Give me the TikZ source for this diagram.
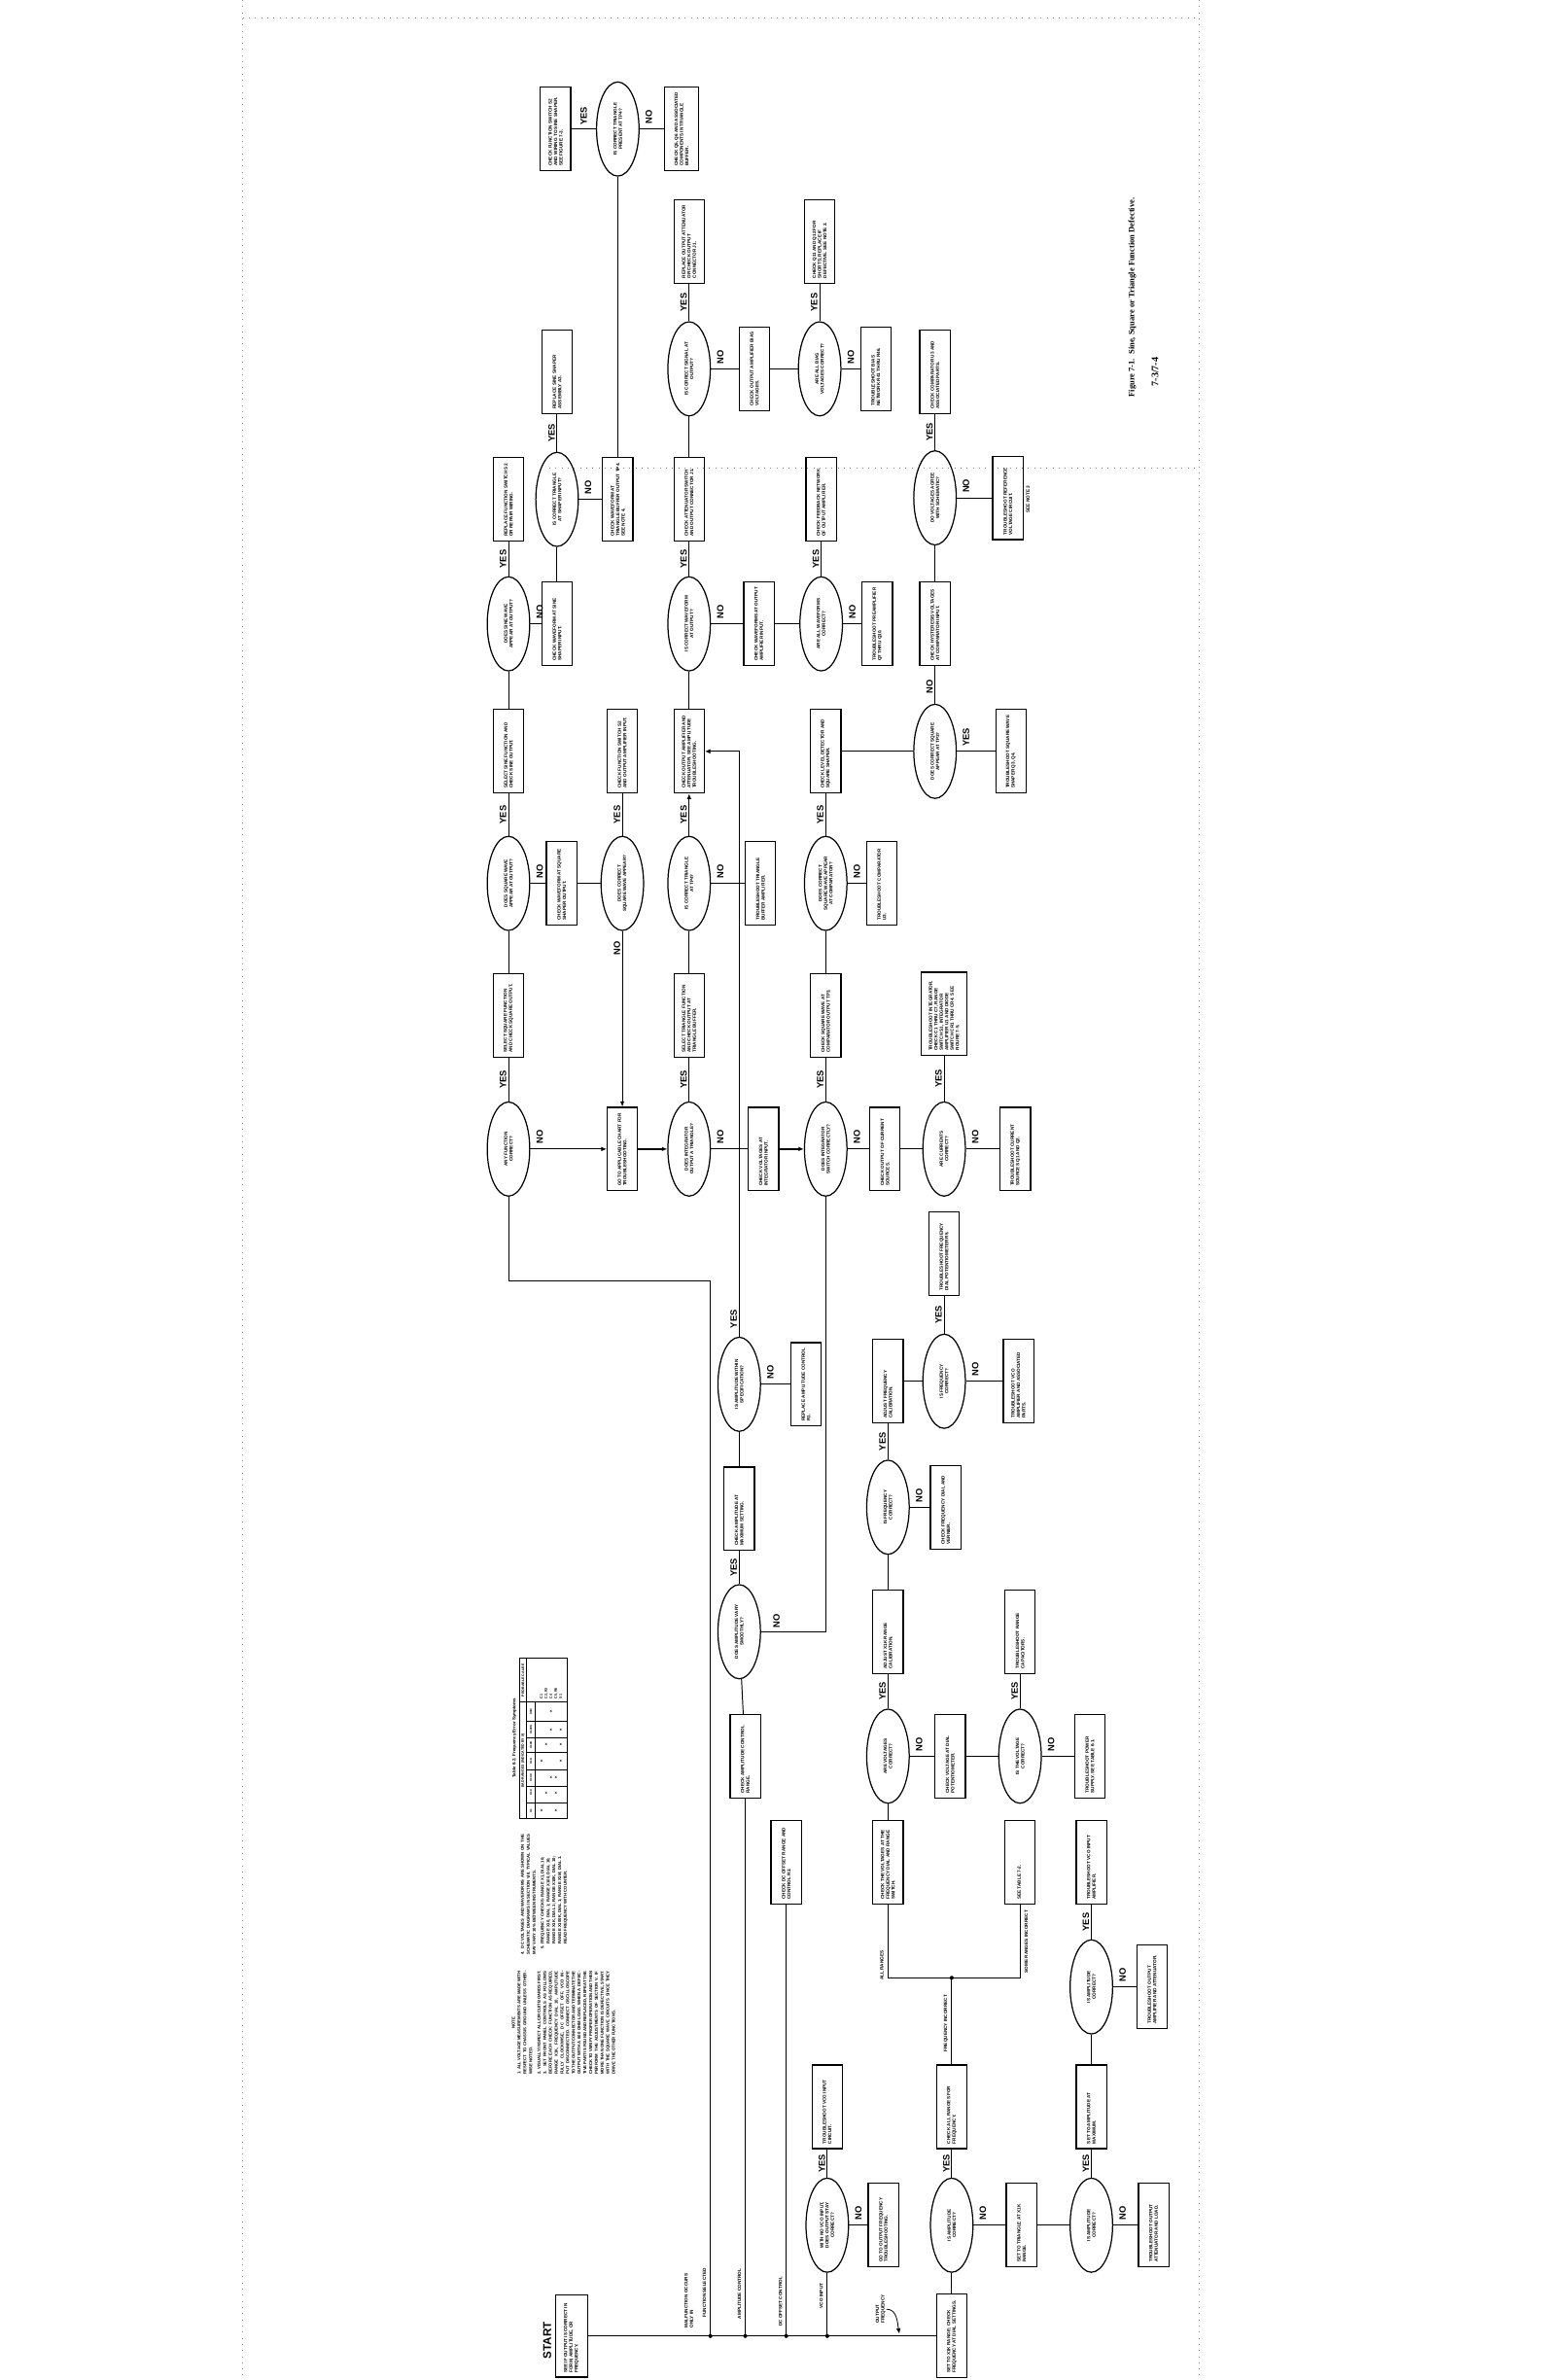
\documentclass[tikz,border=0pt]{standalone}
\usepackage{fontspec}
\setmainfont{Liberation Sans}
\newfontfamily\capfont{Liberation Serif}
\usetikzlibrary{shapes.geometric,arrows.meta}

\newcommand{\boxfont}{\fontsize{3.4}{4.0}\selectfont\bfseries}
\newcommand{\labfont}{\fontsize{6.8}{7}\selectfont\bfseries}
\newcommand{\legfont}{\fontsize{3.4}{4}\selectfont\bfseries}
\newcommand{\boxtxt}[1]{\rotatebox{90}{\parbox{1.95cm}{\boxfont\raggedright #1}}}
\newcommand{\dectxt}[1]{\rotatebox{90}{\parbox{1.5cm}{\boxfont\centering #1}}}
\newcommand{\legtxt}[1]{\rotatebox{90}{\legfont\begin{tabular}{@{}l@{}}#1\end{tabular}}}
\newcommand{\lblyes}{\rotatebox{90}{YES}}
\newcommand{\lblno}{\rotatebox{90}{NO}}

\tikzset{
  >={Latex[length=4pt,width=3.4pt]},
  box/.style={draw, line width=0.9pt, minimum width=0.8cm, minimum height=2.2cm, inner sep=0pt},
  dec/.style={draw, ellipse, line width=0.9pt, minimum width=1.12cm, minimum height=2.48cm, inner sep=0pt},
  lab/.style={inner sep=0.5pt, font=\labfont},
  nolab/.style={lab, pos=0, anchor=south west, xshift=3.7pt, yshift=3pt},
  yeslab/.style={lab, left=0.8pt},
  leg/.style={inner sep=0pt},
  scan/.style={black!45, line width=0.5pt, dash pattern=on 0.6pt off 4pt}
}

\begin{document}
\begin{tikzpicture}[x=0.04cm, y=-0.04cm, line width=0.7pt]
\fill[white] (0,0) rectangle (1015,1568);
\useasboundingbox (0,0) rectangle (1015,1568);

% page edges of the scan
\draw[scan] (160,0) -- (160,1568);
\draw[scan] (790,0) -- (790,1568);
\draw[scan] (160,12) -- (790,12);
\draw[scan] (362,308) -- (790,308);

% row a
\node[box] (bA2) at (366,85) {\boxtxt{CHECK FUNCTION SWITCH S2 AND WIRING TO SINE SHAPER. SEE FIGURE 7-3.}};
\node[dec] (eA3) at (407,85) {\dectxt{IS CORRECT TRIANGLE PRESENT AT TP4?}};
\node[box, minimum width=0.88cm] (bA4) at (449,85) {\boxtxt{CHECK Q5, Q6 AND ASSOCIATED COMPONENTS IN TRIANGLE BUFFER.}};
% row b
\node[box] (bB4) at (454,159) {\boxtxt{REPLACE OUTPUT ATTENUATOR OR CHECK OUTPUT CONNECTOR J1.}};
\node[box] (bB7) at (540,159) {\boxtxt{CHECK Q11 AND Q12 FOR SHORTS; REPLACE IF DEFECTIVE. SEE NOTE 2.}};
% row c
\node[box] (bC2) at (367,245) {\boxtxt{REPLACE SINE SHAPER ASSEMBLY A3.}};
\node[dec] (eC4) at (454,243) {\dectxt{IS CORRECT SIGNAL AT OUTPUT?}};
\node[box] (bC6) at (497,243) {\boxtxt{CHECK OUTPUT AMPLIFIER BIAS VOLTAGES.}};
\node[dec] (eC7) at (540,243) {\dectxt{ARE ALL BIAS VOLTAGES CORRECT?}};
\node[box] (bC8) at (577,243) {\boxtxt{TROUBLESHOOT BIAS NETWORK R41 THRU R46.}};
\node[box] (bC9) at (616,245) {\boxtxt{CHECK COMPARATOR U3 AND ASSOCIATED PARTS.}};
% row d
\node[box] (bD1) at (335,329) {\boxtxt{REPLACE FUNCTION SWITCH S2 OR REPAIR WIRING.}};
\node[dec] (eD2) at (367,329) {\dectxt{IS CORRECT TRIANGLE AT SHAPER INPUT?}};
\node[box] (bD3) at (407,329) {\boxtxt{CHECK WAVEFORM AT TRIANGLE BUFFER OUTPUT TP4. SEE NOTE 4.}};
\node[box] (bD4) at (454,329) {\boxtxt{CHECK ATTENUATOR SWITCH AND OUTPUT CONNECTOR J1.}};
\node[box] (bD7) at (541,329) {\boxtxt{CHECK FEEDBACK NETWORK OF OUTPUT AMPLIFIER.}};
\node[dec] (eD9) at (616,328) {\dectxt{DO VOLTAGES AGREE WITH SCHEMATIC?}};
\node[box] (bD10) at (664,328) {\boxtxt{TROUBLESHOOT REFERENCE VOLTAGE CIRCUIT.}};
\node[leg, anchor=south west] (lNote3) at (675.5,338) {\legtxt{SEE NOTE 3}};
% row e
\node[dec] (eE1) at (335,411) {\dectxt{DOES SINE WAVE APPEAR AT OUTPUT?}};
\node[box] (bE2) at (367,411) {\boxtxt{CHECK WAVEFORM AT SINE SHAPER INPUT.}};
\node[dec] (eE4) at (454,411) {\dectxt{IS CORRECT WAVEFORM AT OUTPUT?}};
\node[box] (bE6) at (500,411) {\boxtxt{CHECK WAVEFORMS AT OUTPUT AMPLIFIER INPUT.}};
\node[dec] (eE7) at (541,411) {\dectxt{ARE ALL WAVEFORMS CORRECT?}};
\node[box] (bE8) at (578,411) {\boxtxt{TROUBLESHOOT PREAMPLIFIER Q7 THRU Q10.}};
\node[box] (bE9) at (616,411) {\boxtxt{CHECK HYSTERESIS VOLTAGES AT COMPARATOR INPUT.}};
% row f
\node[box] (bF1) at (335,495) {\boxtxt{SELECT SINE FUNCTION AND CHECK SINE OUTPUT.}};
\node[box] (bF3) at (410,495) {\boxtxt{CHECK FUNCTION SWITCH S2 AND OUTPUT AMPLIFIER INPUT.}};
\node[box] (bF4) at (454,495) {\boxtxt{CHECK OUTPUT AMPLIFIER AND ATTENUATOR. SEE AMPLITUDE TROUBLESHOOTING.}};
\node[box] (bF7) at (544,495) {\boxtxt{CHECK LEVEL DETECTOR AND SQUARE SHAPER.}};
\node[dec] (eF9) at (616,495) {\dectxt{DOES CORRECT SQUARE APPEAR AT TP3?}};
\node[box] (bF10) at (666,495) {\boxtxt{TROUBLESHOOT SQUARE WAVE SHAPER Q3, Q4.}};
% row g
\node[dec] (eG1) at (335,582) {\dectxt{DOES SQUARE WAVE APPEAR AT OUTPUT?}};
\node[box] (bG2) at (370,582) {\boxtxt{CHECK WAVEFORM AT SQUARE SHAPER OUTPUT.}};
\node[dec] (eG3) at (410,582) {\dectxt{DOES CORRECT SQUARE WAVE APPEAR?}};
\node[dec] (eG4) at (454,582) {\dectxt{IS CORRECT TRIANGLE AT TP4?}};
\node[box] (bG6) at (501,582) {\boxtxt{TROUBLESHOOT TRIANGLE BUFFER AMPLIFIER.}};
\node[dec] (eG7) at (544,582) {\dectxt{DOES CORRECT SQUARE WAVE APPEAR AT COMPARATOR?}};
\node[box] (bG8) at (581,582) {\boxtxt{TROUBLESHOOT COMPARATOR U3.}};
% row h
\node[box] (bH1) at (335,669) {\boxtxt{SELECT SQUARE FUNCTION AND CHECK SQUARE OUTPUT.}};
\node[box] (bH4) at (454,669) {\boxtxt{SELECT TRIANGLE FUNCTION AND CHECK OUTPUT AT TRIANGLE BUFFER.}};
\node[box] (bH7) at (544,669) {\boxtxt{CHECK SQUARE WAVE AT COMPARATOR OUTPUT TP3.}};
\node[box, minimum width=1.2cm] (bH9) at (622,668) {\rotatebox{90}{\parbox{1.95cm}{\boxfont\raggedright TROUBLESHOOT INTEGRATOR. CHECK C1 THRU C7, RANGE SWITCH S1, INTEGRATOR AMPLIFIER U1 AND DIODE SWITCH CR1 THRU CR4. SEE FIGURE 7-5.}}};
% row i
\node[dec] (eI1) at (335,757) {\dectxt{ANY FUNCTION CORRECT?}};
\node[box] (bI3) at (410,757) {\boxtxt{GO TO APPLICABLE CHART FOR TROUBLESHOOTING.}};
\node[dec] (eI4) at (454,757) {\dectxt{DOES INTEGRATOR OUTPUT A TRIANGLE?}};
\node[box] (bI6) at (503,757) {\boxtxt{CHECK VOLTAGES AT INTEGRATOR INPUT.}};
\node[dec] (eI7) at (544,757) {\dectxt{DOES INTEGRATOR SWITCH CORRECTLY?}};
\node[box] (bI8) at (583,757) {\boxtxt{CHECK OUTPUT OF CURRENT SOURCES.}};
\node[dec] (eI9) at (622,757) {\dectxt{ARE CURRENTS CORRECT?}};
\node[box] (bI10) at (669,757) {\boxtxt{TROUBLESHOOT CURRENT SOURCES Q1 AND Q2.}};
% row j
\node[box] (bJ9) at (622,826) {\boxtxt{TROUBLESHOOT FREQUENCY DIAL POTENTIOMETER R5.}};
% row k
\node[dec] (eK5) at (487,912) {\dectxt{IS AMPLITUDE WITHIN SPECIFICATION?}};
\node[box] (bK6) at (531,912) {\boxtxt{REPLACE AMPLITUDE CONTROL R1.}};
\node[box] (bK8) at (585,910) {\boxtxt{ADJUST FREQUENCY CALIBRATION.}};
\node[dec] (eK9) at (622,910) {\dectxt{IS FREQUENCY CORRECT?}};
\node[box] (bK10) at (671,910) {\boxtxt{TROUBLESHOOT VCO AMPLIFIER AND ASSOCIATED PARTS.}};
% row l
\node[box] (bL5) at (487,994) {\boxtxt{CHECK AMPLITUDE AT MAXIMUM SETTING.}};
\node[dec] (eL8) at (585,993) {\dectxt{IS FREQUENCY CORRECT?}};
\node[box] (bL9) at (623,993) {\boxtxt{CHECK FREQUENCY DIAL AND VERNIER.}};
% row m
\node[dec] (eM5) at (487,1075) {\dectxt{DOES AMPLITUDE VARY SMOOTHLY?}};
\node[box] (bM8) at (585,1075) {\boxtxt{ADJUST X1K RANGE CALIBRATION.}};
\node[box] (bM10) at (672,1075) {\boxtxt{TROUBLESHOOT RANGE CAPACITORS.}};
% row n
\node[box] (bN5) at (491,1157) {\boxtxt{CHECK AMPLITUDE CONTROL RANGE.}};
\node[dec] (eN8) at (585,1157) {\dectxt{ARE VOLTAGES CORRECT?}};
\node[box] (bN9) at (626,1157) {\boxtxt{CHECK VOLTAGE AT DIAL POTENTIOMETER.}};
\node[dec] (eN10) at (672,1157) {\dectxt{IS THE VOLTAGE CORRECT?}};
\node[box] (bN11) at (718,1157) {\boxtxt{TROUBLESHOOT POWER SUPPLY. SEE TABLE 6-1.}};
% row o
\node[box] (bO6) at (518,1227) {\boxtxt{CHECK DC OFFSET RANGE AND CONTROL R2.}};
\node[box] (bO8) at (585,1227) {\boxtxt{CHECK THE VOLTAGES AT THE FREQUENCY DIAL AND RANGE SWITCH.}};
\node[box] (bO10) at (672,1227) {\boxtxt{SEE TABLE 7-2.}};
\node[box] (bO11) at (719,1227) {\boxtxt{TROUBLESHOOT VCO INPUT AMPLIFIER.}};
% row p
\node[dec] (eP11) at (719,1309) {\dectxt{IS AMPLITUDE CORRECT?}};
\node[box] (bP12) at (759,1309) {\boxtxt{TROUBLESHOOT OUTPUT AMPLIFIER AND ATTENUATOR.}};
% row q
\node[box] (bQ7) at (545,1388) {\boxtxt{TROUBLESHOOT VCO INPUT CIRCUIT.}};
\node[box] (bQ9) at (627,1388) {\boxtxt{CHECK ALL RANGES FOR FREQUENCY.}};
\node[box] (bQ11) at (719,1388) {\boxtxt{SET TO AMPLITUDE AT MAXIMUM.}};
% row r
\node[dec] (eR7) at (545,1466) {\dectxt{WITH NO VCO INPUT, DOES OUTPUT STAY CORRECT?}};
\node[box] (bR8) at (582,1466) {\boxtxt{GO TO OUTPUT FREQUENCY TROUBLESHOOTING.}};
\node[dec] (eR9) at (627,1466) {\dectxt{IS AMPLITUDE CORRECT?}};
\node[box] (bR10) at (673,1466) {\boxtxt{SET TO TRIANGLE AT X1K RANGE.}};
\node[dec] (eR11) at (719,1466) {\dectxt{IS AMPLITUDE CORRECT?}};
\node[box] (bR12) at (760,1466) {\boxtxt{TROUBLESHOOT OUTPUT ATTENUATOR AND LOAD.}};
% row s
\node[box, minimum width=0.84cm, minimum height=2.16cm] (start) at (376.5,1539) {\boxtxt{SEE IF OUTPUT IS CORRECT IN FORM, AMPLITUDE, OR FREQUENCY.}};
\node[font=\fontsize{8.5}{9}\selectfont\bfseries, inner sep=0pt] (startlbl) at (360.5,1542) {\rotatebox{90}{START}};
\node[box] (bS9) at (627,1539) {\boxtxt{SET TO X1K RANGE; CHECK FREQUENCY AT DIAL SETTINGS.}};

% connectors, top part
\draw (eA3) to node[lab, above=2pt]{\lblyes} (bA2);
\draw (eA3) to node[nolab]{\lblno} (bA4);
\draw (eA3) to (bD3);
\draw (bB4) to node[yeslab]{\lblyes} (eC4);
\draw (eC4) to node[nolab]{\lblno} (bC6);
\draw (bC6) to (eC7);
\draw (bB7) to node[yeslab]{\lblyes} (eC7);
\draw (eC7) to node[nolab]{\lblno} (bC8);
\draw (eC4) to (bD4);
\draw (bC2) to node[yeslab]{\lblyes} (eD2);
\draw (eD2) to node[nolab]{\lblno} (bD3);
\draw (eD2) to (bE2);
\draw (bD1) to node[yeslab]{\lblyes} (eE1);
\draw (eE1) to node[nolab]{\lblno} (bE2);
\draw (eE1) to (bF1);
\draw (bD4) to node[yeslab]{\lblyes} (eE4);
\draw (eE4) to node[nolab]{\lblno} (bE6);
\draw (bE6) to (eE7);
\draw (bD7) to node[yeslab]{\lblyes} (eE7);
\draw (eE7) to node[nolab]{\lblno} (bE8);
\draw (eE4) to (bF4);
\draw (bC9) to node[yeslab]{\lblyes} (eD9);
\draw (eD9) to node[nolab]{\lblno} (bD10);
\draw (eD9) to (bE9);
\draw (eF9) to node[lab, left=0.8pt, pos=.45]{\lblno} (bE9);
\draw (bF7) to (eF9);
\draw (eF9) to node[nolab]{\lblyes} (bF10);
\draw (bF1) to node[yeslab]{\lblyes} (eG1);
\draw (eG1) to node[nolab]{\lblno} (bG2);
\draw (bG2) to (eG3);
\draw (bF3) to node[yeslab]{\lblyes} (eG3);
\draw[->] (eG3) to node[lab, left=0.8pt, pos=.1]{\lblno} (bI3);
\draw[->] (eG4) to node[yeslab]{\lblyes} (bF4);
\draw (eG4) to node[nolab]{\lblno} (bG6);
\draw (eG4) to (bH4);
\draw (bF7) to node[yeslab]{\lblyes} (eG7);
\draw (eG7) to node[nolab]{\lblno} (bG8);
\draw (eG7) to (bH7);
\draw (eG1) to (bH1);
\draw (bH1) to node[yeslab]{\lblyes} (eI1);
\draw[->] (eI1) to node[nolab]{\lblno} (bI3);
\draw[->, line width=1.1pt] (bI3) to (eI4);
\draw (bH4) to node[yeslab]{\lblyes} (eI4);
\draw (eI4) to node[nolab]{\lblno} (bI6);
\draw[->, line width=1.1pt] (bI6) to (eI7);
\draw (bH7) to node[yeslab]{\lblyes} (eI7);
\draw (eI7) to node[nolab]{\lblno} (bI8);
\draw (bI8) to (eI9);
\draw (bH9) to node[yeslab]{\lblyes} (eI9);
\draw (eI9) to node[nolab]{\lblno} (bI10);

% amplitude branch
\draw[->] (eK5) |- node[lab, left=0.8pt, pos=.015]{\lblyes} (bF4);
\draw (eK5) to node[nolab]{\lblno} (bK6);
\draw (eK5) to (bL5);
\draw (bL5) to node[yeslab]{\lblyes} (eM5);
\draw (eM5) -| node[lab, above=2pt, pos=.12]{\lblno} (eI7);
\draw (eM5) to (bN5);

% frequency branch
\draw (bK8) to node[yeslab]{\lblyes} (eL8);
\draw (bK8) to (eK9);
\draw (bJ9) to node[yeslab]{\lblyes} (eK9);
\draw (eK9) to node[nolab]{\lblno} (bK10);
\draw (eL8) to node[nolab]{\lblno} (bL9);
\draw (eL8) to (bM8);
\draw (bM8) to node[yeslab]{\lblyes} (eN8);
\draw (eN8) to node[nolab]{\lblno} (bN9);
\draw (bN9) to (eN10);
\draw (bM10) to node[yeslab]{\lblyes} (eN10);
\draw (eN10) to node[nolab]{\lblno} (bN11);
\draw (eN8) to (bO8);
\coordinate (jL) at (585,1303);
\coordinate (jM) at (627,1303);
\coordinate (jR) at (672,1303);
\draw (bO8) -- (jL) -- (jR) -- (bO10);
\draw (jM) -- (bQ9);
\fill (jM) circle (1.5pt);
\node[leg, anchor=south east] (lAll) at (583.3,1305) {\legtxt{ALL RANGES}};
\node[leg, anchor=south east] (lFreq) at (625.3,1352) {\legtxt{FREQUENCY INCORRECT}};
\node[leg, anchor=south west] (lSome) at (674.3,1300) {\legtxt{SOME RANGES INCORRECT}};
\draw (bQ9) to node[yeslab]{\lblyes} (eR9);
\draw (eR9) to node[nolab]{\lblno} (bR10);
\draw (bR10) to (eR11);
\draw (bQ11) to node[yeslab]{\lblyes} (eR11);
\draw (eR11) to node[nolab]{\lblno} (bR12);
\draw (eP11) to (bQ11);
\draw (bO11) to node[yeslab]{\lblyes} (eP11);
\draw (eP11) to node[nolab]{\lblno} (bP12);
\draw (bS9) to (eR9);
\draw (bQ7) to node[yeslab]{\lblyes} (eR7);
\draw (eR7) to node[nolab]{\lblno} (bR8);

% bus from START
\coordinate (tMF) at (468,844);
\coordinate (kMF) at (468,1539);
\coordinate (kAC) at (491,1539);
\coordinate (kDC) at (518,1539);
\coordinate (kVCO) at (545,1539);
\coordinate (tipOF) at (592.5,1537.5);
\draw (start) to (bS9);
\draw (eI1) |- (tMF) -- (kMF);
\draw (bN5) to (kAC);
\draw (bO6) to (kDC);
\draw (eR7) to (kVCO);
\fill (kMF) circle (1.5pt);
\fill (kAC) circle (1.5pt);
\fill (kDC) circle (1.5pt);
\fill (kVCO) circle (1.5pt);
\node[leg, anchor=south east] (lMF) at (458,1534) {\legtxt{MALFUNCTION OCCURS\\ONLY IN}};
\node[leg, anchor=south east] (lFS) at (466.5,1527) {\legtxt{FUNCTION SELECTED}};
\node[leg, anchor=south east] (lAC) at (489.5,1528) {\legtxt{AMPLITUDE CONTROL}};
\node[leg, anchor=south east] (lDC) at (516.5,1533) {\legtxt{DC OFFSET CONTROL}};
\node[leg, anchor=south east] (lVCO) at (543.5,1521) {\legtxt{VCO INPUT}};
\node[leg, anchor=south east] (lOF) at (584,1531) {\legtxt{OUTPUT\\FREQUENCY}};
\draw[->, line width=0.6pt] (lOF.east) to[out=0, in=100] (tipOF);

% notes
\node[leg, anchor=south west] (notesB) at (337,1367) {\rotatebox{90}{\parbox{2.72cm}{\fontsize{3.1}{4.3}\selectfont\bfseries
\centerline{NOTE}\par
1. ALL VOLTAGE MEASUREMENTS ARE MADE WITH RESPECT TO CHASSIS GROUND UNLESS OTHERWISE NOTED.\par\vspace{2pt}
2. VISUALLY INSPECT ALL CIRCUIT BOARDS FIRST.\par
3. SET FRONT PANEL CONTROLS AS FOLLOWS BEFORE EACH CHECK: FUNCTION AS REQUIRED, RANGE X1K, FREQUENCY DIAL 10, AMPLITUDE FULLY CLOCKWISE, DC OFFSET OFF, VCO INPUT DISCONNECTED. CONNECT OSCILLOSCOPE TO THE OUTPUT CONNECTOR AND TERMINATE THE OUTPUT WITH A 600 OHM LOAD. WHEN A DEFECTIVE PART IS FOUND AND REPLACED, REPEAT THE CHECK TO VERIFY PROPER OPERATION AND THEN PERFORM THE ADJUSTMENTS OF SECTION V. IF MORE THAN ONE FUNCTION IS DEFECTIVE, START WITH THE SQUARE WAVE CIRCUITS SINCE THEY DRIVE THE OTHER FUNCTIONS.}}};
\node[leg, anchor=south west] (notesA) at (343,1288) {\rotatebox{90}{\parbox{3.16cm}{\fontsize{3.1}{4.3}\selectfont\bfseries
4. DC VOLTAGES AND WAVEFORMS ARE SHOWN ON THE SCHEMATIC DIAGRAMS IN SECTION VIII. TYPICAL VALUES MAY VARY 10\% BETWEEN INSTRUMENTS.\par\vspace{2pt}
\hspace*{4pt}5. FREQUENCY CHECKS: RANGE X1, DIAL 10;\par
\hspace*{8pt}RANGE X10, DIAL 1; RANGE X100, DIAL 10;\par
\hspace*{8pt}RANGE X1K, DIAL 1; RANGE X10K, DIAL 10;\par
\hspace*{8pt}RANGE X100K, DIAL 1; RANGE X1M, DIAL 1.\par
\hspace*{8pt}READ FREQUENCY WITH COUNTER.}}};

% frequency table
\node[leg] (tTitle) at (339,1145) {\rotatebox{90}{\fontsize{3.3}{4}\selectfont\bfseries Table 6-2. Frequency Error Symptoms}};
\draw[line width=0.6pt] (342,1092.5) rectangle (373.5,1198.2);
\draw[line width=0.5pt] (347,1092.5) -- (347,1198.2);
\draw[line width=0.5pt] (352.4,1121.3) -- (352.4,1198.2);
\draw[line width=0.5pt] (342,1121.3) -- (373.5,1121.3);
\foreach \yy in {1134.1,1144.8,1154.4,1166.1,1176.8,1187.5}
  \draw[line width=0.5pt] (347,\yy) -- (373.5,\yy);
\node[leg] (tBad) at (344.6,1160) {\rotatebox{90}{\fontsize{2.6}{3}\selectfont\bfseries BAD RANGES (INDICATED BY X)}};
\node[leg] (tCause) at (344.6,1107) {\rotatebox{90}{\fontsize{2.6}{3}\selectfont\bfseries PROBABLE CAUSE}};
\foreach \ry/\rl [count=\i] in {1192.8/X1,1181.1/X10,1171.4/X100,1160.3/X1K,1149.6/X10K,1139.5/X100K,1127.7/X1M}
  \node[leg] (tRange\i) at (349.7,\ry) {\rotatebox{90}{\fontsize{2.2}{2.6}\selectfont\bfseries \rl}};
\node[leg, anchor=south west] (tList) at (354.8,1119.5) {\rotatebox{90}{\fontsize{2.6}{3.64}\selectfont\bfseries\begin{tabular}{@{}l@{}}C1\\C2, R3\\C4\\C5, R6\\S1\end{tabular}}};
\foreach \mx/\my [count=\i] in {363.1/1127.7,363.1/1139.5,369.5/1139.5,359.9/1149.6,369.5/1149.6,356.7/1160.3,369.5/1160.3,363.1/1171.4,366.3/1171.4,359.9/1181.1,366.3/1181.1,356.7/1192.8,366.3/1192.8}
  \node[leg, font=\fontsize{3}{3}\selectfont\bfseries] (tMark\i) at (\mx,\my) {x};

% caption
\node[leg] (caption) at (746,196) {\rotatebox{90}{\capfont\fontsize{6.2}{7}\selectfont\bfseries Figure 7-1.\ \ Sine, Square or Triangle Function Defective.}};
\node[leg] (pageno) at (761,245) {\rotatebox{90}{\capfont\fontsize{7.4}{8}\selectfont\bfseries 7-3/7-4}};
\end{tikzpicture}
\end{document}
